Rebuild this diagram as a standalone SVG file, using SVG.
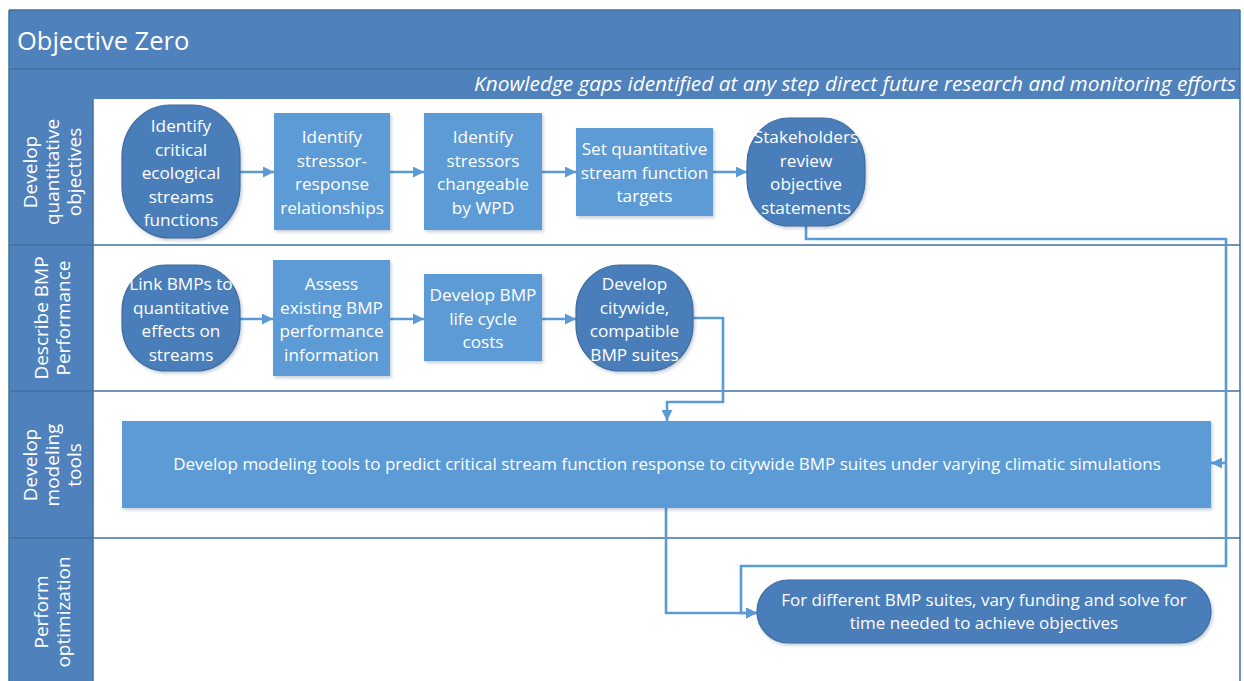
<svg xmlns="http://www.w3.org/2000/svg" width="1244" height="681" viewBox="0 0 1244 681">
  <style>
    .band { fill: #4f81bd; }
    .sep { stroke: #41719c; stroke-width: 1.5; fill: none; }
    .box { fill: #5b9bd5; filter: url(#shadow); }
    .term { fill: #4a7eba; stroke: #3e6d9c; stroke-width: 1.2; filter: url(#shadow); }
    .t { font-family: "Open Sans", "Noto Sans", sans-serif; fill: #ffffff; font-size: 17.2px; text-anchor: middle; }
    .wide { font-size: 17px; }
    .lane { font-family: "Open Sans", "Noto Sans", sans-serif; fill: #ffffff; font-size: 19px; text-anchor: middle; }
    .title { font-family: "Open Sans", "Noto Sans", sans-serif; fill: #ffffff; font-size: 25.5px; }
    .sub { font-family: "Open Sans", "Noto Sans", sans-serif; fill: #ffffff; font-size: 20.8px; font-style: italic; text-anchor: end; }
    .flow { stroke: #5b9bd5; stroke-width: 2.6; fill: none; }
  </style>
  <defs>
    <filter id="shadow" x="-10%" y="-10%" width="125%" height="130%">
      <feDropShadow dx="1.5" dy="2" stdDeviation="1.5" flood-color="#1f3f66" flood-opacity="0.25"/>
    </filter>
    <marker id="arrow" viewBox="0 0 10 10" refX="10" refY="5" markerWidth="11" markerHeight="11" markerUnits="userSpaceOnUse" orient="auto">
      <path d="M0,0 L10,5 L0,10 Z" fill="#5b9bd5"/>
    </marker>
  </defs>

  <!-- frame background -->
  <rect x="9" y="10" width="1231" height="671" fill="#ffffff"/>

  <!-- title and subtitle bands -->
  <rect class="band" x="9" y="10" width="1231" height="59"/>
  <rect class="band" x="9" y="69" width="1231" height="30"/>
  <line class="sep" x1="9" y1="69" x2="1240" y2="69"/>
  <text class="title" x="17" y="50">Objective Zero</text>
  <text class="sub" x="1236" y="91">Knowledge gaps identified at any step direct future research and monitoring efforts</text>

  <!-- lane header column -->
  <rect class="band" x="9" y="99" width="84" height="582"/>

  <!-- lane separators -->
  <g id="lanes">
    <line class="sep" x1="9" y1="245" x2="1240" y2="245"/>
    <line class="sep" x1="9" y1="391" x2="1240" y2="391"/>
    <line class="sep" x1="9" y1="538" x2="1240" y2="538"/>
    <line class="sep" x1="93" y1="99" x2="93" y2="681"/>
    <line class="sep" x1="1240" y1="10" x2="1240" y2="681"/>
    <line class="sep" x1="9" y1="10" x2="9" y2="681"/>
    <line class="sep" x1="9" y1="10" x2="1240" y2="10"/>
  </g>

  <!-- lane titles -->
  <g id="lane-objectives">
    <text class="lane" transform="translate(52,172) rotate(-90)"><tspan x="0" y="-15">Develop</tspan><tspan x="0" y="7">quantitative</tspan><tspan x="0" y="29">objectives</tspan></text>
  </g>
  <g id="lane-performance">
    <text class="lane" transform="translate(52,318) rotate(-90)"><tspan x="0" y="-4">Describe BMP</tspan><tspan x="0" y="18">Performance</tspan></text>
  </g>
  <g id="lane-modeling">
    <text class="lane" transform="translate(52,465) rotate(-90)"><tspan x="0" y="-15">Develop</tspan><tspan x="0" y="7">modeling</tspan><tspan x="0" y="29">tools</tspan></text>
  </g>
  <g id="lane-optimization">
    <text class="lane" transform="translate(52,612) rotate(-90)"><tspan x="0" y="-4">Perform</tspan><tspan x="0" y="18">optimization</tspan></text>
  </g>

  <!-- connectors -->
  <g id="connectors">
    <line class="flow" x1="240" y1="172" x2="274" y2="172" marker-end="url(#arrow)"/>
    <line class="flow" x1="390" y1="172" x2="424" y2="172" marker-end="url(#arrow)"/>
    <line class="flow" x1="542" y1="172" x2="576" y2="172" marker-end="url(#arrow)"/>
    <line class="flow" x1="713" y1="172" x2="747" y2="172" marker-end="url(#arrow)"/>
    <line class="flow" x1="240" y1="319" x2="273" y2="319" marker-end="url(#arrow)"/>
    <line class="flow" x1="390" y1="319" x2="424" y2="319" marker-end="url(#arrow)"/>
    <line class="flow" x1="542" y1="319" x2="576" y2="319" marker-end="url(#arrow)"/>
    <!-- suites down to modeling -->
    <polyline class="flow" points="693,318 723,318 723,402 667,402 667,421" marker-end="url(#arrow)"/>
    <!-- stakeholder review around the right side -->
    <polyline class="flow" points="806,226 806,239 1226,239 1226,566 741,566 741,613 757,613" marker-end="url(#arrow)"/>
    <line class="flow" x1="1226" y1="463" x2="1211" y2="463" marker-end="url(#arrow)"/>
    <!-- modeling down to optimization -->
    <polyline class="flow" points="666,508 666,613 757,613" marker-end="url(#arrow)"/>
  </g>

  <!-- lane 1 nodes -->
  <g id="identify-functions">
    <rect class="term" x="122" y="105" width="118" height="133" rx="48" ry="52"/>
    <text class="t"><tspan x="181" y="132">Identify</tspan><tspan x="181" y="155.5">critical</tspan><tspan x="181" y="179">ecological</tspan><tspan x="181" y="202.5">streams</tspan><tspan x="181" y="226">functions</tspan></text>
  </g>
  <g id="stressor-response">
    <rect class="box" x="274" y="113" width="116" height="117"/>
    <text class="t"><tspan x="332" y="143">Identify</tspan><tspan x="332" y="166.5">stressor-</tspan><tspan x="332" y="190">response</tspan><tspan x="332" y="213.5">relationships</tspan></text>
  </g>
  <g id="changeable-stressors">
    <rect class="box" x="424" y="113" width="118" height="117"/>
    <text class="t"><tspan x="483" y="143">Identify</tspan><tspan x="483" y="166.5">stressors</tspan><tspan x="483" y="190">changeable</tspan><tspan x="483" y="213.5">by WPD</tspan></text>
  </g>
  <g id="function-targets">
    <rect class="box" x="576" y="128" width="137" height="88"/>
    <text class="t"><tspan x="644.5" y="155">Set quantitative</tspan><tspan x="644.5" y="178.5">stream function</tspan><tspan x="644.5" y="202">targets</tspan></text>
  </g>
  <g id="stakeholder-review">
    <rect class="term" x="747" y="118" width="118" height="108" rx="42" ry="46"/>
    <text class="t"><tspan x="806" y="143">Stakeholders</tspan><tspan x="806" y="166.5">review</tspan><tspan x="806" y="190">objective</tspan><tspan x="806" y="213.5">statements</tspan></text>
  </g>

  <!-- lane 2 nodes -->
  <g id="link-bmps">
    <rect class="term" x="122" y="265" width="118" height="106" rx="44" ry="46"/>
    <text class="t"><tspan x="181" y="290">Link BMPs to</tspan><tspan x="181" y="313.5">quantitative</tspan><tspan x="181" y="337">effects on</tspan><tspan x="181" y="360.5">streams</tspan></text>
  </g>
  <g id="assess-performance">
    <rect class="box" x="273" y="260" width="117" height="116"/>
    <text class="t"><tspan x="331.5" y="290">Assess</tspan><tspan x="331.5" y="313.5">existing BMP</tspan><tspan x="331.5" y="337">performance</tspan><tspan x="331.5" y="360.5">information</tspan></text>
  </g>
  <g id="life-cycle-costs">
    <rect class="box" x="424" y="274" width="118" height="87"/>
    <text class="t"><tspan x="483" y="301">Develop BMP</tspan><tspan x="483" y="324.5">life cycle</tspan><tspan x="483" y="348">costs</tspan></text>
  </g>
  <g id="bmp-suites">
    <rect class="term" x="576" y="265" width="117" height="106" rx="44" ry="46"/>
    <text class="t"><tspan x="634.5" y="290">Develop</tspan><tspan x="634.5" y="313.5">citywide,</tspan><tspan x="634.5" y="337">compatible</tspan><tspan x="634.5" y="360.5">BMP suites</tspan></text>
  </g>

  <!-- lane 3 node -->
  <g id="modeling-tools">
    <rect class="box" x="122" y="421" width="1089" height="87"/>
    <text class="t wide" x="667" y="470">Develop modeling tools to predict critical stream function response to citywide BMP suites under varying climatic simulations</text>
  </g>

  <!-- lane 4 node -->
  <g id="optimization">
    <rect class="term" x="757" y="580" width="454" height="63" rx="31.5" ry="31.5"/>
    <text class="t wide"><tspan x="984" y="606">For different BMP suites, vary funding and solve for</tspan><tspan x="984" y="629">time needed to achieve objectives</tspan></text>
  </g>
</svg>
